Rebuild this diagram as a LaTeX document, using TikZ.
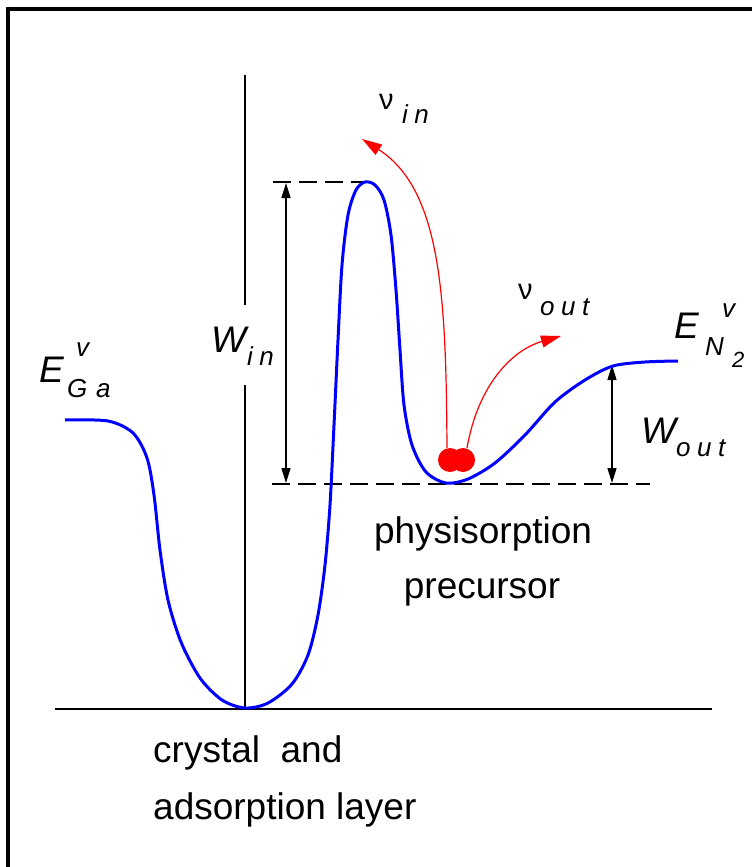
\documentclass[tikz,border=0pt]{standalone}
\usepackage{fontspec}
\setmainfont{Liberation Sans}
\newfontfamily\spfont[LetterSpace=25]{Liberation Sans}
\usetikzlibrary{arrows.meta}
\begin{document}
\begin{tikzpicture}[x=1pt,y=-1pt,
  curve/.style={draw=blue, line width=3pt, line join=round},
  axisline/.style={draw=black, line width=1.4pt},
  dashline/.style={draw=black, line width=1.4pt, dash pattern=on 18pt off 8pt},
  dim/.style={draw=black, line width=1.4pt, {Triangle[width=9pt,length=15pt]}-{Triangle[width=9pt,length=15pt]}, shorten <=1pt, shorten >=1pt},
  redarrow/.style={draw=red, line width=1.2pt, -{Triangle[width=12pt,length=20pt]}},
  lab/.style={inner sep=0pt, font=\fontsize{37}{44}\selectfont},
  big/.style={inner sep=0pt, anchor=base west, font=\fontsize{37}{44}\selectfont\itshape},
  sub/.style={inner sep=0pt, anchor=base west, font=\spfont\fontsize{26}{28}\selectfont\itshape},
  nu/.style={inner sep=0pt, anchor=base west, font=\fontsize{29}{30}\selectfont},
]
\useasboundingbox (0,0) rectangle (752,867);
\fill[white] (0,0) rectangle (752,867);
\draw[line width=3.5pt] (8,867) -- (8,9) -- (752,9);

% coordinates
\coordinate (axtop) at (245,75);
\coordinate (axbreak1) at (245,305);
\coordinate (axbreak2) at (245,385);
\coordinate (axbot) at (245,709);
\coordinate (baseL) at (55,709);
\coordinate (baseR) at (712,709);
\coordinate (peakdashL) at (273,182);
\coordinate (peakdashR) at (366,182);
\coordinate (mindashL) at (272,484);
\coordinate (mindashR) at (650,484);
\coordinate (winTop) at (286,182);
\coordinate (winBot) at (286,484);
\coordinate (woutTop) at (612,364);
\coordinate (woutBot) at (612,484);

% axes
\draw[axisline] (baseL) -- (baseR);
\draw[axisline] (axtop) -- (axbreak1);
\draw[axisline] (axbreak2) -- (axbot);

% dashed levels
\draw[dashline] (peakdashL) -- (peakdashR);
\draw[dashline] (mindashL) -- (mindashR);

% dimension arrows
\draw[dim] (winBot) -- (winTop);
\draw[dim] (woutBot) -- (woutTop);

% potential curve
\draw[curve] plot[smooth, tension=0.5] coordinates {
 (65,420) (108,421) (133,433) (147,458) (154,495) (160,550) (168,600)
 (181,642) (200,678) (222,700) (245,708) (268,703) (292,684) (308,655)
 (318,615) (325,565) (330,505) (334,425) (338,340) (342,265) (348,215)
 (356,190) (365,182) (375,185) (384,200) (391,235) (396,290) (400,350)
 (404,405) (412,445) (426,472) (446,483) (468,479) (495,463) (525,435)
 (555,402) (585,380) (613,366) (645,362) (678,361)};

% molecule
\fill[red] (450,460) circle (12);
\fill[red] (463,460) circle (12);
\coordinate (molA) at (447,448);
\coordinate (molB) at (467,448);
\coordinate (nuinTip) at (362,139);
\coordinate (nuoutTip) at (561,336);
\draw[redarrow] (molA) .. controls (446,300) and (442,190) .. (nuinTip);
\draw[redarrow] (molB) .. controls (478,385) and (512,350) .. (nuoutTip);

% labels
\node[big] (EGa) at (39,382) {E};
\node[sub] (EGasup) at (76,356) {v};
\node[sub] (EGaG) at (67,397) {G};
\node[sub] (EGaa) at (96,397) {a};

\node[big] (Win) at (211,352) {W};
\node[sub] (Winsub) at (247,365) {in};

\node[nu] (nuin) at (379,109) {ν};
\node[sub] (nuinsub) at (402,123) {in};

\node[nu] (nuout) at (518,299) {ν};
\node[sub] (nuoutsub) at (540,315) {out};

\node[big] (EN) at (674,338) {E};
\node[sub] (ENsup) at (722,317) {v};
\node[sub] (ENN) at (705,355) {N};
\node[sub, font=\fontsize{22}{24}\selectfont\itshape] (EN2) at (732,367) {2};

\node[big] (Wout) at (641,443) {W};
\node[sub] (Woutsub) at (676,456) {out};

\node[lab, anchor=base] (phys) at (483,543) {physisorption};
\node[lab, anchor=base] (prec) at (482,598) {precursor};
\node[lab, anchor=base west] (cry) at (153,762) {crystal\ \ and};
\node[lab, anchor=base west] (ads) at (153,819) {adsorption layer};
\end{tikzpicture}
\end{document}
